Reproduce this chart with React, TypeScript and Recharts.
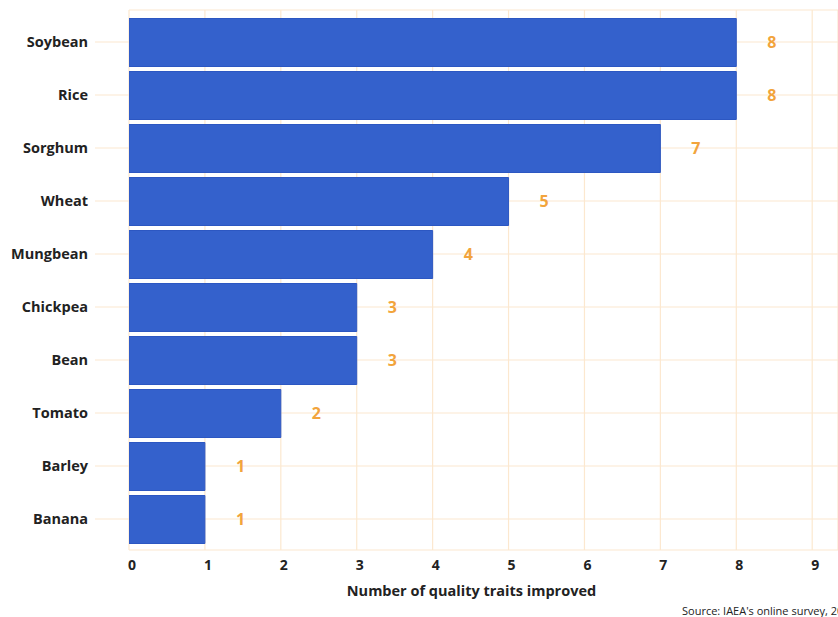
import { Bar, BarChart, CartesianGrid, LabelList, XAxis, YAxis } from "recharts";

const crops = ["Soybean", "Rice", "Sorghum", "Wheat", "Mungbean", "Chickpea", "Bean", "Tomato", "Barley", "Banana"];
const traits = [8, 8, 7, 5, 4, 3, 3, 2, 1, 1];
const xTicks = [0, 1, 2, 3, 4, 5, 6, 7, 8, 9];

const gridColor = "#FCE8CF";
const font = "'Open Sans', sans-serif";

export default function App() {
  const data = crops.map((crop, i) => ({ crop, traits: traits[i] }));

  return (
    <div
      style={{
        position: "fixed",
        left: 0,
        top: 0,
        width: 838,
        height: 617,
        overflow: "hidden",
        background: "#fff",
        fontFamily: font,
      }}
    >
      <BarChart
        width={838}
        height={617}
        data={data}
        layout="vertical"
        margin={{ top: 10, right: 0, bottom: 0, left: 0 }}
      >
        <CartesianGrid stroke={gridColor} strokeWidth={1.2} />
        <XAxis
          type="number"
          domain={[0, 9.34]}
          ticks={xTicks}
          allowDataOverflow
          height={67}
          axisLine={false}
          tickLine={false}
          tickMargin={4}
          tick={{ fill: "#222", fontSize: 14, fontWeight: 700, fontFamily: font, dx: 3 }}
          label={{
            value: "Number of quality traits improved",
            position: "insideBottom",
            offset: 21,
            dx: -12,
            fill: "#222",
            fontSize: 14.5,
            fontWeight: 700,
            fontFamily: font,
          }}
        />
        <YAxis
          type="category"
          dataKey="crop"
          width={129}
          axisLine={false}
          tickSize={34}
          tickMargin={7}
          tickLine={{ stroke: gridColor, strokeWidth: 1.2 }}
          padding={{ top: 5.5, bottom: 4.5 }}
          tick={{ fill: "#222", fontSize: 14.5, fontWeight: 700, fontFamily: font }}
        />
        <Bar
          dataKey="traits"
          fill="#3461CC"
          stroke="#2C57C2"
          strokeWidth={1}
          barSize={48}
          isAnimationActive={false}
        >
          <LabelList
            dataKey="traits"
            position="right"
            offset={31}
            fill="#F2A43C"
            fontSize={16}
            fontWeight={700}
            fontFamily={font}
          />
        </Bar>
      </BarChart>
      <div
        style={{
          position: "absolute",
          left: 682,
          top: 603,
          fontSize: 11,
          color: "#222",
          whiteSpace: "nowrap",
        }}
      >
        Source: IAEA's online survey, 2023
      </div>
    </div>
  );
}
